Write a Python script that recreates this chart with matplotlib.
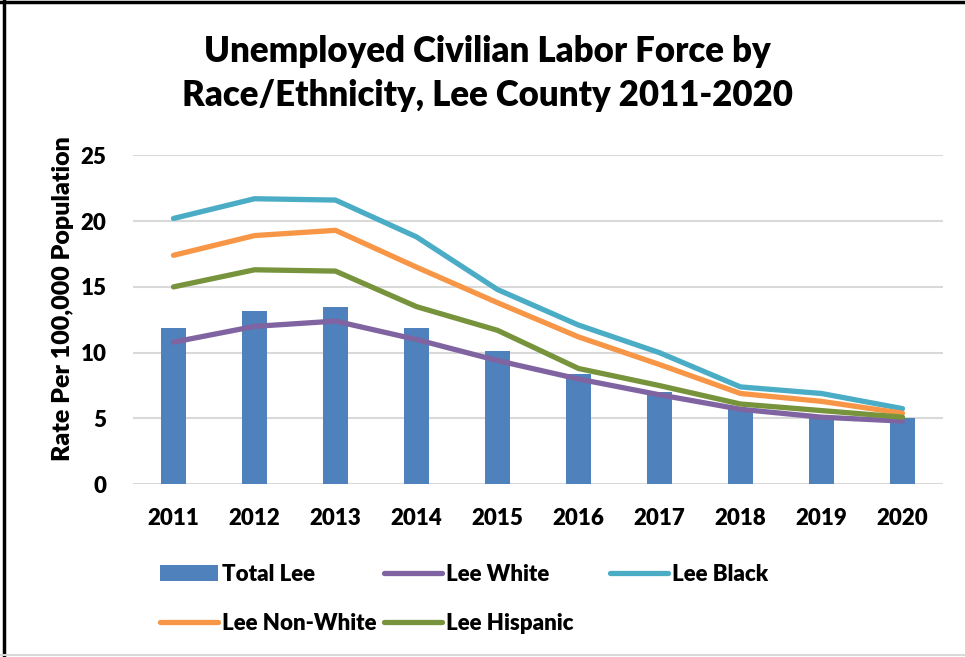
import matplotlib.pyplot as plt
import numpy as np

years = ["2011", "2012", "2013", "2014", "2015", "2016", "2017", "2018", "2019", "2020"]
total_lee = [11.9, 13.2, 13.5, 11.9, 10.1, 8.4, 7.0, 5.8, 5.2, 5.0]
lee_white = [10.8, 12.0, 12.4, 11.0, 9.4, 8.0, 6.8, 5.7, 5.1, 4.8]
lee_black = [20.2, 21.7, 21.6, 18.8, 14.8, 12.1, 10.0, 7.4, 6.9, 5.75]
lee_nonwhite = [17.4, 18.9, 19.3, 16.5, 13.8, 11.2, 9.1, 6.9, 6.3, 5.4]
lee_hispanic = [15.0, 16.3, 16.2, 13.5, 11.7, 8.8, 7.5, 6.1, 5.6, 5.1]

plt.rcParams['font.family'] = ['Lato', 'DejaVu Sans']
plt.rcParams['font.weight'] = 'heavy'
fw = 'heavy'

fig = plt.figure(figsize=(9.65, 6.57), dpi=100)
ax = fig.add_axes([0.1378, 0.2629, 0.8394, 0.5007])

x = np.arange(len(years))
bars = ax.bar(x, total_lee, width=0.32, color="#4F81BD", label="Total Lee", zorder=2)
lw = 3.8
l_white, = ax.plot(x, lee_white, color="#8064A2", lw=lw, solid_capstyle='round', label="Lee White", zorder=3)
l_black, = ax.plot(x, lee_black, color="#4BACC6", lw=lw, solid_capstyle='round', label="Lee Black", zorder=3)
l_nonwhite, = ax.plot(x, lee_nonwhite, color="#F79646", lw=lw, solid_capstyle='round', label="Lee Non-White", zorder=3)
l_hisp, = ax.plot(x, lee_hispanic, color="#77933C", lw=lw, solid_capstyle='round', label="Lee Hispanic", zorder=3)

ax.set_xlim(-0.5, 9.5)
ax.set_ylim(0, 25)
ax.set_yticks([0, 5, 10, 15, 20, 25])
ax.set_xticks(x)
ax.set_xticklabels(years)
ax.tick_params(axis='both', length=0, labelsize=16)
ax.tick_params(axis='y', pad=19)
ax.tick_params(axis='x', pad=17)
ax.grid(axis='y', color="#d9d9d9", lw=1.5, zorder=0)
for s in ax.spines.values():
    s.set_visible(False)

fig.text(0.065, 0.546, "Rate Per 100,000 Population", rotation=90, ha='center', va='center',
         fontsize=18, fontweight=fw)

fig.text(0.505, 0.888, "Unemployed Civilian Labor Force by\nRace/Ethnicity, Lee County 2011-2020",
         ha='center', va='center', fontsize=25, fontweight=fw, linespacing=1.4)

# legend laid out in three columns like the original
cols = [([bars, l_nonwhite], 0.166), ([l_white, l_hisp], 0.398), ([l_black], 0.632)]
for hs, xa in cols:
    fig.legend(hs, [h.get_label() for h in hs], loc='upper left', bbox_to_anchor=(xa, 0.142),
               frameon=False, fontsize=16, handlelength=2.6, handletextpad=0.2,
               labelspacing=1.27, borderpad=0, borderaxespad=0)

# chart border
fig.add_artist(plt.Line2D([0.004, 0.004], [0, 1], color='black', lw=2.5, transform=fig.transFigure))
fig.add_artist(plt.Line2D([0, 1], [0.997, 0.997], color='black', lw=2.5, transform=fig.transFigure))
fig.add_artist(plt.Line2D([0, 1], [0.003, 0.003], color='#d9d9d9', lw=1.5, transform=fig.transFigure))

fig.savefig("out.png", dpi=100)
